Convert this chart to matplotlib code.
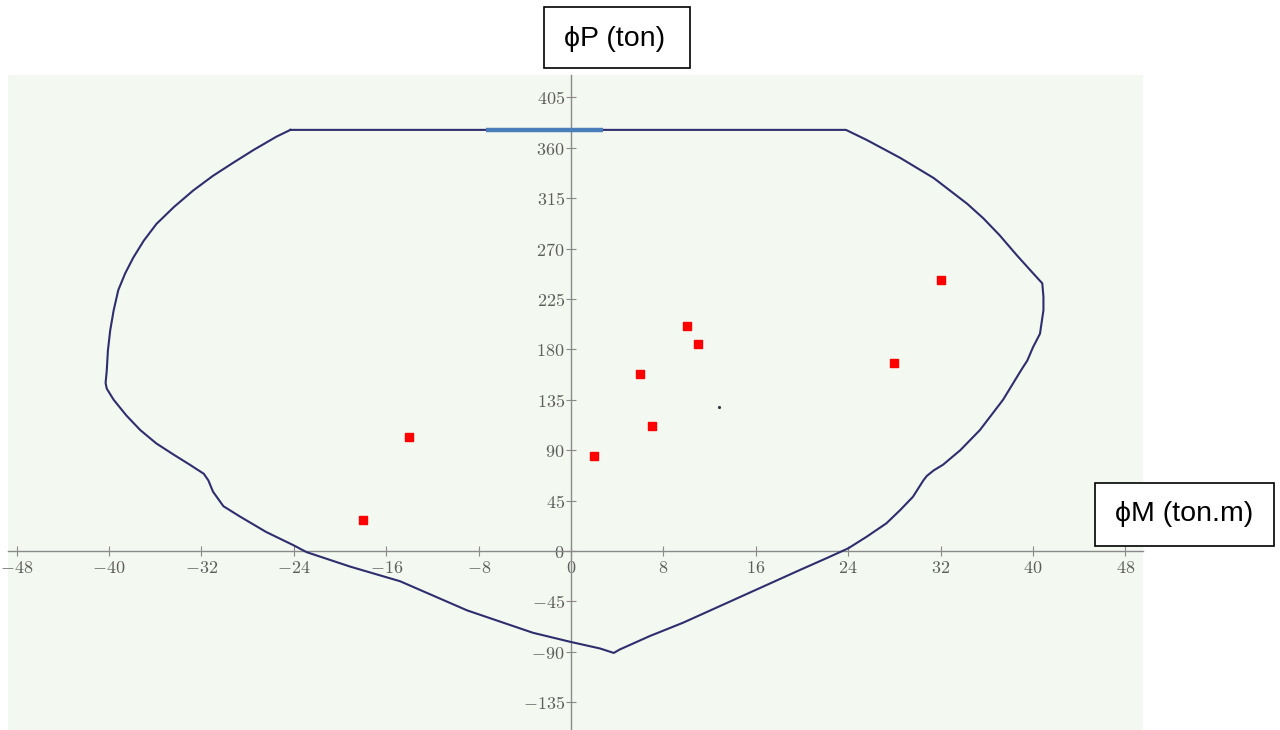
import numpy as np
import matplotlib.pyplot as plt
from matplotlib.patches import Rectangle
from matplotlib.ticker import FixedLocator, FuncFormatter

plt.rcParams['mathtext.fontset'] = 'cm'

# interaction diagram outline (phiM, phiP)
curve_M = [-24.3, -25.5, -27.5, -29.2, -31.0, -32.7, -34.4, -35.9, -37.0, -37.9,
           -38.6, -39.2, -39.6, -39.9, -40.1, -40.2, -40.3, -40.2, -39.6, -38.5,
           -37.3, -35.9, -34.4, -33.0, -31.8, -31.4, -31.0, -30.1, -28.7, -26.4,
           -24.0, -22.9, -19.1, -14.8, -9.0, -3.3, -0.1, 2.5, 3.7, 4.2,
           6.8, 9.7, 14.0, 19.8, 22.1, 24.0, 25.6, 27.3, 28.5, 29.6,
           30.5, 30.8, 31.4, 32.2, 33.7, 35.4, 37.4, 39.0, 39.5, 40.0,
           40.6, 40.9, 40.9, 40.8, 40.0, 38.6, 37.1, 35.7, 34.3, 31.4,
           28.5, 25.6, 23.8, -24.3]
curve_P = [376, 370, 358, 347, 335, 322, 307, 292, 277, 262,
           248, 233, 215, 197, 179, 161, 150, 145, 135, 121,
           108, 96, 86, 77, 69, 63, 53, 40, 31, 17,
           5, -1, -14, -27, -53, -73, -81, -87, -91, -88,
           -76, -64, -44, -17, -6.5, 2.4, 12.8, 24.7, 36.6, 48.4,
           63, 67, 72, 77, 90, 108, 135, 162, 170, 182,
           194, 215, 227, 239, 248, 264, 282, 297, 310, 333,
           351, 367, 376, 376]

# load points
load_M = [-18, -14, 2, 6, 7, 10, 11, 28, 32]
load_P = [28, 102, 85, 158, 112, 201, 185, 168, 242]

# highlighted max axial segment
cap_M = [-7.4, 2.8]
cap_P = [376, 376]

dot_M = [12.8]
dot_P = [128.5]

xticks = list(range(-48, 49, 8))
yticks = list(range(-135, 406, 45))

fig = plt.figure(figsize=(12.8, 7.3), dpi=100)
ax = fig.add_axes([8/1280, 0, 1135/1280, 655/730])
ax.set_facecolor('#f3f8f0')

ax.plot(curve_M, curve_P, color='#2e2e6e', linewidth=1.5, solid_joinstyle='round', zorder=3)
ax.plot(cap_M, cap_P, color='#4a7ebb', linewidth=3.2, solid_capstyle='butt', zorder=4)
ax.plot(load_M, load_P, linestyle='none', marker='s', markersize=6,
        color='#ff0000', zorder=5)
ax.plot(dot_M, dot_P, linestyle='none', marker='.', markersize=2.5,
        color='#333344', zorder=5)

ax.set_xlim(-48.75, 49.52)
ax.set_ylim(-159.8, 425)

for s in ['top', 'right']:
    ax.spines[s].set_visible(False)
for s in ['left', 'bottom']:
    ax.spines[s].set_position('zero')
    ax.spines[s].set_color('#8a8a8a')
    ax.spines[s].set_linewidth(1.0)

ax.xaxis.set_major_locator(FixedLocator(xticks))
ax.yaxis.set_major_locator(FixedLocator(yticks))
fmt = FuncFormatter(lambda v, p: r'$%d$' % v)
ax.xaxis.set_major_formatter(fmt)
ax.yaxis.set_major_formatter(fmt)
ax.tick_params(direction='inout', length=7, width=0.8, color='#8a8a8a',
               labelcolor='#5e5e5e', labelsize=13)
ax.tick_params(axis='x', pad=2)
ax.tick_params(axis='y', pad=1)

# axis title boxes
fig.add_artist(Rectangle((544/1280, 1 - 68/730), 146/1280, 61/730,
                         transform=fig.transFigure, fc='white', ec='black', lw=1.2))
fig.text(615/1280, 1 - 39/730, 'ϕP (ton)', ha='center', va='center',
         fontsize=20.5, family='Liberation Sans')
fig.add_artist(Rectangle((1095/1280, 1 - 546/730), 179/1280, 63/730,
                         transform=fig.transFigure, fc='white', ec='black', lw=1.2))
fig.text(1184/1280, 1 - 514/730, 'ϕM (ton.m)', ha='center', va='center',
         fontsize=20.5, family='Liberation Sans')

fig.savefig('out.png', dpi=100)
